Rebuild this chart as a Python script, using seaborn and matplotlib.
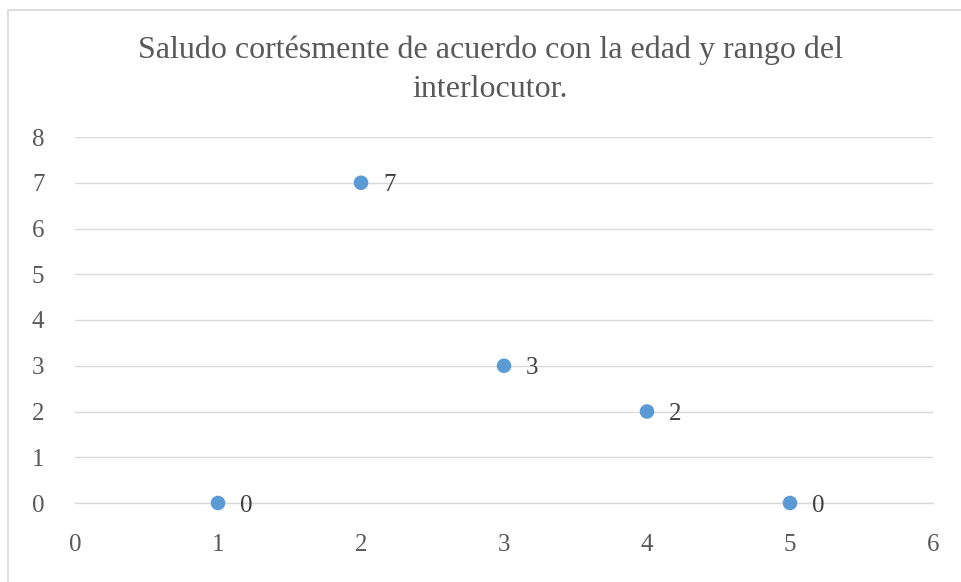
import matplotlib
matplotlib.use("Agg")
import matplotlib.pyplot as plt
from matplotlib.patches import Rectangle
import seaborn as sns
import pandas as pd

sns.set_theme(style="white")
plt.rcParams['font.family'] = ['Liberation Serif', 'DejaVu Serif']

# data
x_vals = [1, 2, 3, 4, 5]
y_vals = [0, 7, 3, 2, 0]
title = "Saludo cortésmente de acuerdo con la edad y rango del\ninterlocutor."

df = pd.DataFrame({"x": x_vals, "y": y_vals})

text_col = "#595959"
grid_col = "#d9d9d9"

fig = plt.figure(figsize=(9.61, 5.82), dpi=100)
ax = fig.add_axes([75 / 961, 79 / 582, 858 / 961, 366 / 582])

sns.scatterplot(data=df, x="x", y="y", ax=ax, color="#5b9bd5", s=110,
                edgecolor="none", zorder=3, clip_on=False)

for xv, yv in zip(x_vals, y_vals):
    ax.annotate(str(yv), (xv, yv), xytext=(16, 0), textcoords="offset points",
                ha="left", va="center_baseline", fontsize=18, color="#404040")

ax.set_xlim(0, 6)
ax.set_ylim(0, 8)
ax.set_yticks(range(0, 9))
ax.set_xticks(range(0, 7))
ax.grid(axis="y", color=grid_col, linewidth=1)
ax.set_axisbelow(True)
for side in ["top", "right", "left"]:
    ax.spines[side].set_visible(False)
ax.spines["bottom"].set_color(grid_col)
ax.spines["bottom"].set_linewidth(1)

ax.tick_params(axis="both", length=0, labelsize=18, labelcolor=text_col)
ax.tick_params(axis="y", pad=22)
ax.tick_params(axis="x", pad=22)
# small ticks only at the axis ends, as in the original
ax.set_xticks([0, 6], minor=True)
ax.tick_params(axis="x", which="minor", length=6, color=grid_col, width=1, direction="out")
ax.set_xlabel("")
ax.set_ylabel("")

fig.text(0.51, 1 - 70 / 582, title, ha="center", va="center", fontsize=23,
         color=text_col, linespacing=1.45)

# chart area border
fig.patches.append(Rectangle((8 / 961, -0.01), 1.0, 1 - 10 / 582 + 0.01,
                             transform=fig.transFigure, fill=False,
                             edgecolor=grid_col, linewidth=1.2))

fig.savefig("out.png", dpi=100)
